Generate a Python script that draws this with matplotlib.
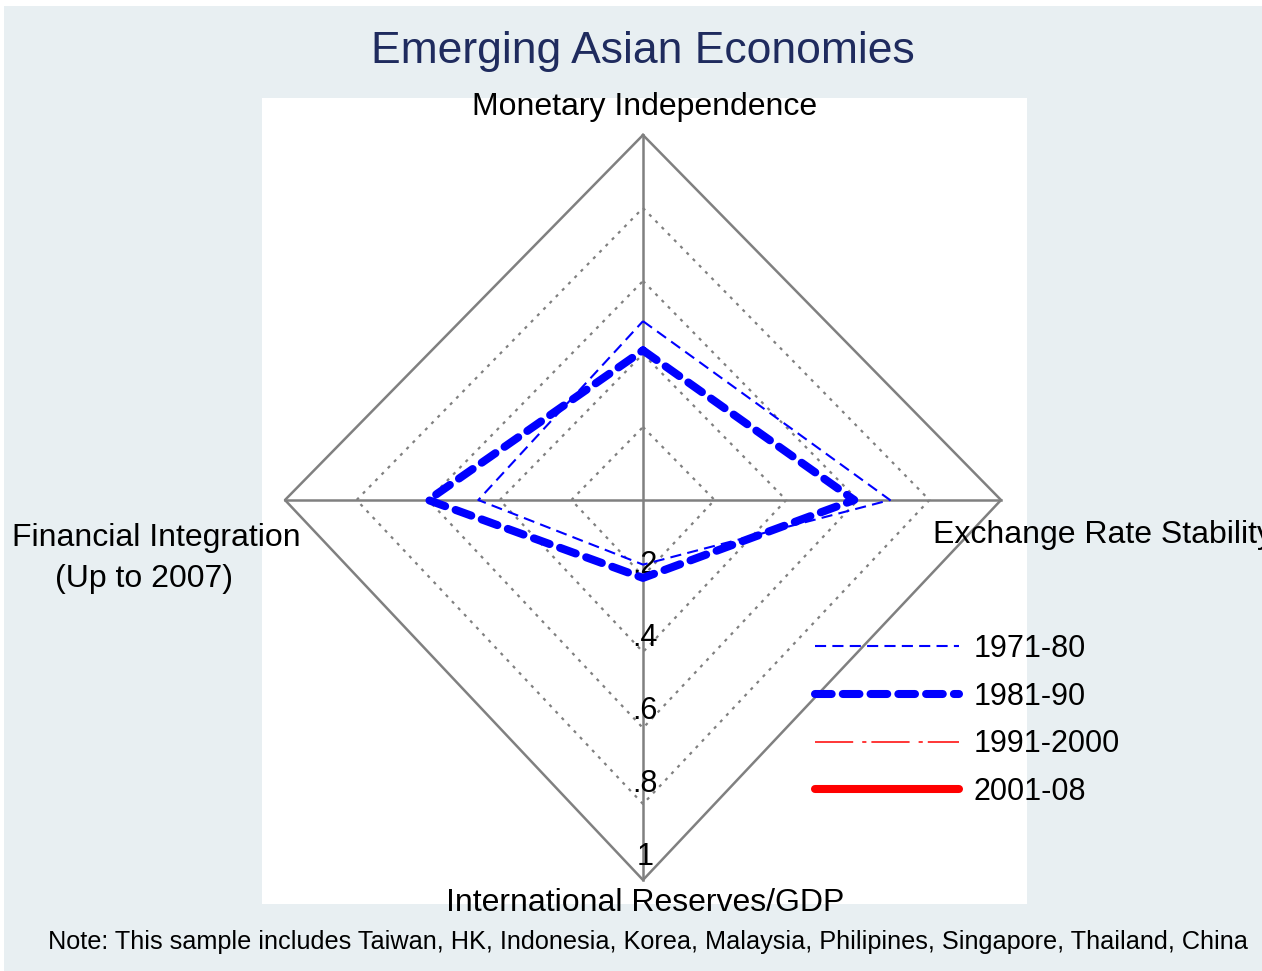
import numpy as np
import matplotlib
matplotlib.use("Agg")
import matplotlib.pyplot as plt
from matplotlib.patches import Rectangle

plt.rcParams['font.family'] = ['Liberation Sans', 'DejaVu Sans']
plt.rcParams['lines.scale_dashes'] = False

# Data (value on each of the four radar axes)
periods = ["1971-80", "1981-90", "1991-2000", "2001-08"]
mon_indep = [0.49, 0.41, np.nan, np.nan]    # top
exch_stab = [0.69, 0.59, np.nan, np.nan]    # right
int_res = [0.17, 0.205, np.nan, np.nan]     # bottom
fin_integ = [0.46, 0.60, np.nan, np.nan]    # left
grid_levels = [0.2, 0.4, 0.6, 0.8]
tick_values = [0.2, 0.4, 0.6, 0.8, 1.0]
tick_labels = [".2", ".4", ".6", ".8", "1"]

W, H = 1262, 971
DOWN = 1.041  # bottom axis is drawn a bit longer than the others


def fx(x):
    return x / W


def fy(y):
    return 1 - y / H


def diamond(r):
    xs = [0, r, 0, -r, 0]
    ys = [r, 0, -r * DOWN, 0, r]
    return xs, ys


fig = plt.figure(figsize=(W / 100, H / 100), dpi=100)
fig.patch.set_facecolor('white')
fig.patches.append(Rectangle((fx(4), 0), 1 - fx(4), fy(6), transform=fig.transFigure,
                             facecolor='#e8eff2', edgecolor='none', zorder=-10))

ax = fig.add_axes([fx(262), fy(904), fx(1027 - 262), (904 - 98) / H])
ax.set_facecolor('white')
ax.set_xlim(-1.0642, 1.0726)
ax.set_ylim(-1.1068, 1.1014)
for s in ax.spines.values():
    s.set_visible(False)
ax.set_xticks([])
ax.set_yticks([])

grey = '#808080'
# dotted inner grid diamonds
for r in grid_levels:
    xs, ys = diamond(r)
    ax.plot(xs, ys, color=grey, lw=1.6, dashes=(2.2, 4.2), zorder=1)
# outer diamond and spokes
xs, ys = diamond(1.0)
ax.plot(xs, ys, color=grey, lw=1.8, zorder=1)
ax.plot([0, 0], [1, -DOWN], color=grey, lw=1.8, zorder=1)
ax.plot([-1, 1], [0, 0], color=grey, lw=1.8, zorder=1)

# tick labels along the bottom spoke
for v, lab in zip(tick_values, tick_labels):
    ax.text(0.006, -v, lab, ha='center', va='baseline', fontsize=22, color='black', zorder=2)

styles = [
    dict(color='#0000ff', lw=1.5, dashes=(8, 4.5)),
    dict(color='#0000ff', lw=5.8, dashes=(12, 8), dash_capstyle='round', solid_capstyle='round'),
    dict(color='#ff0000', lw=1.1, dashes=(27.5, 6.5, 3, 3.6)),
    dict(color='#ff0000', lw=5.8, solid_capstyle='round'),
]

handles = []
for i, p in enumerate(periods):
    xs = [0, exch_stab[i], 0, -fin_integ[i], 0]
    ys = [mon_indep[i], 0, -int_res[i] * DOWN, 0, mon_indep[i]]
    ln, = ax.plot(xs, ys, label=p, zorder=3, **styles[i])
    handles.append(ln)

leg = fig.legend(handles=handles, loc='upper left',
                 bbox_to_anchor=(fx(815), fy(634)), bbox_transform=fig.transFigure,
                 frameon=False, fontsize=22, handlelength=4.7, handletextpad=0.5,
                 labelspacing=0.58, borderpad=0, borderaxespad=0)

# axis labels
fig.text(fx(645), fy(115), "Monetary Independence", ha='center', va='baseline', fontsize=23)
fig.text(fx(933), fy(543), "Exchange Rate Stability", ha='left', va='baseline', fontsize=23)
fig.text(fx(645), fy(911), "International Reserves/GDP", ha='center', va='baseline', fontsize=23)
fig.text(fx(156), fy(546), "Financial Integration", ha='center', va='baseline', fontsize=23)
fig.text(fx(144), fy(587), "(Up to 2007)", ha='center', va='baseline', fontsize=23)

fig.text(fx(643), fy(63), "Emerging Asian Economies", ha='center', va='baseline',
         fontsize=32, color='#1f2b5e')
fig.text(fx(648), fy(949), "Note: This sample includes Taiwan, HK, Indonesia, Korea, Malaysia, "
         "Philipines, Singapore, Thailand, China", ha='center', va='baseline', fontsize=18.2)

fig.savefig('out.png', dpi=100, facecolor=fig.get_facecolor())
